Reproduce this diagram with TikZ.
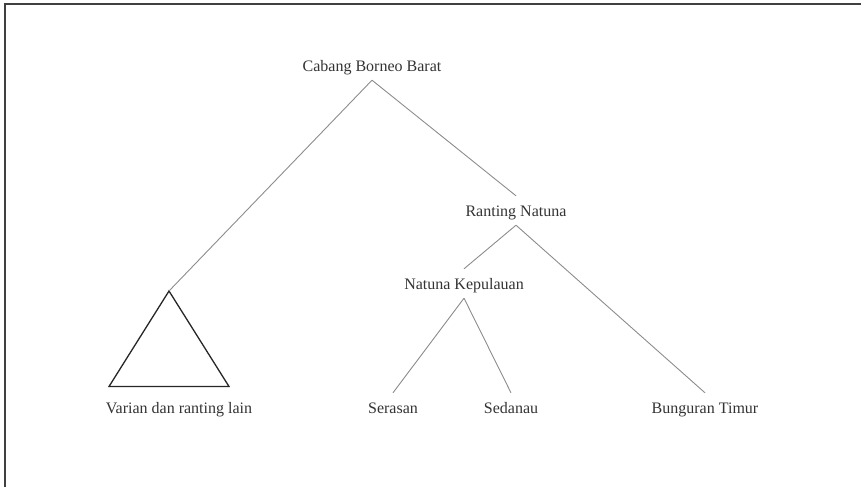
\documentclass[tikz,border=0pt]{standalone}
\usepackage{fontspec}
\setmainfont{Liberation Serif}
\begin{document}
\begin{tikzpicture}[x=1pt,y=-1pt,
  lbl/.style={font=\fontsize{16}{19}\selectfont, text=black!80, text height=11pt, text depth=0pt, inner ysep=9pt, inner xsep=2pt},
  branch/.style={draw=black!45, line width=0.9pt},
  frame/.style={draw=black!75, line width=2pt}]
\useasboundingbox (0,0) rectangle (861,487);
\draw[frame] (4.5,487) -- (4.5,4.5) -- (861,4.5);
% labels (positions: center x, baseline y - 5.5)
\node[lbl] (cabang) at (372,65.5) {Cabang Borneo Barat};
\node[lbl] (ranting) at (516,210.5) {Ranting Natuna};
\node[lbl] (kep) at (464,283.5) {Natuna Kepulauan};
\node[lbl] (serasan) at (393,407.5) {Serasan};
\node[lbl] (sedanau) at (511,407.5) {Sedanau};
\node[lbl] (bunguran) at (705,407.5) {Bunguran Timur};
\node[lbl] (varian) at (179,407.5) {Varian dan ranting lain};
% triangle
\coordinate (apex) at (169,291);
\draw[black!85, line width=1.3pt, line join=miter] (apex) -- (109,386.5) -- (229,386.5) -- cycle;
% branches
\draw[branch] (cabang.south) -- (apex);
\draw[branch] (cabang.south) -- (ranting.north);
\draw[branch] (ranting.south) -- (kep.north);
\draw[branch] (ranting.south) -- (bunguran.north);
\draw[branch] (kep.south) -- (serasan.north);
\draw[branch] (kep.south) -- (sedanau.north);
\end{tikzpicture}
\end{document}
